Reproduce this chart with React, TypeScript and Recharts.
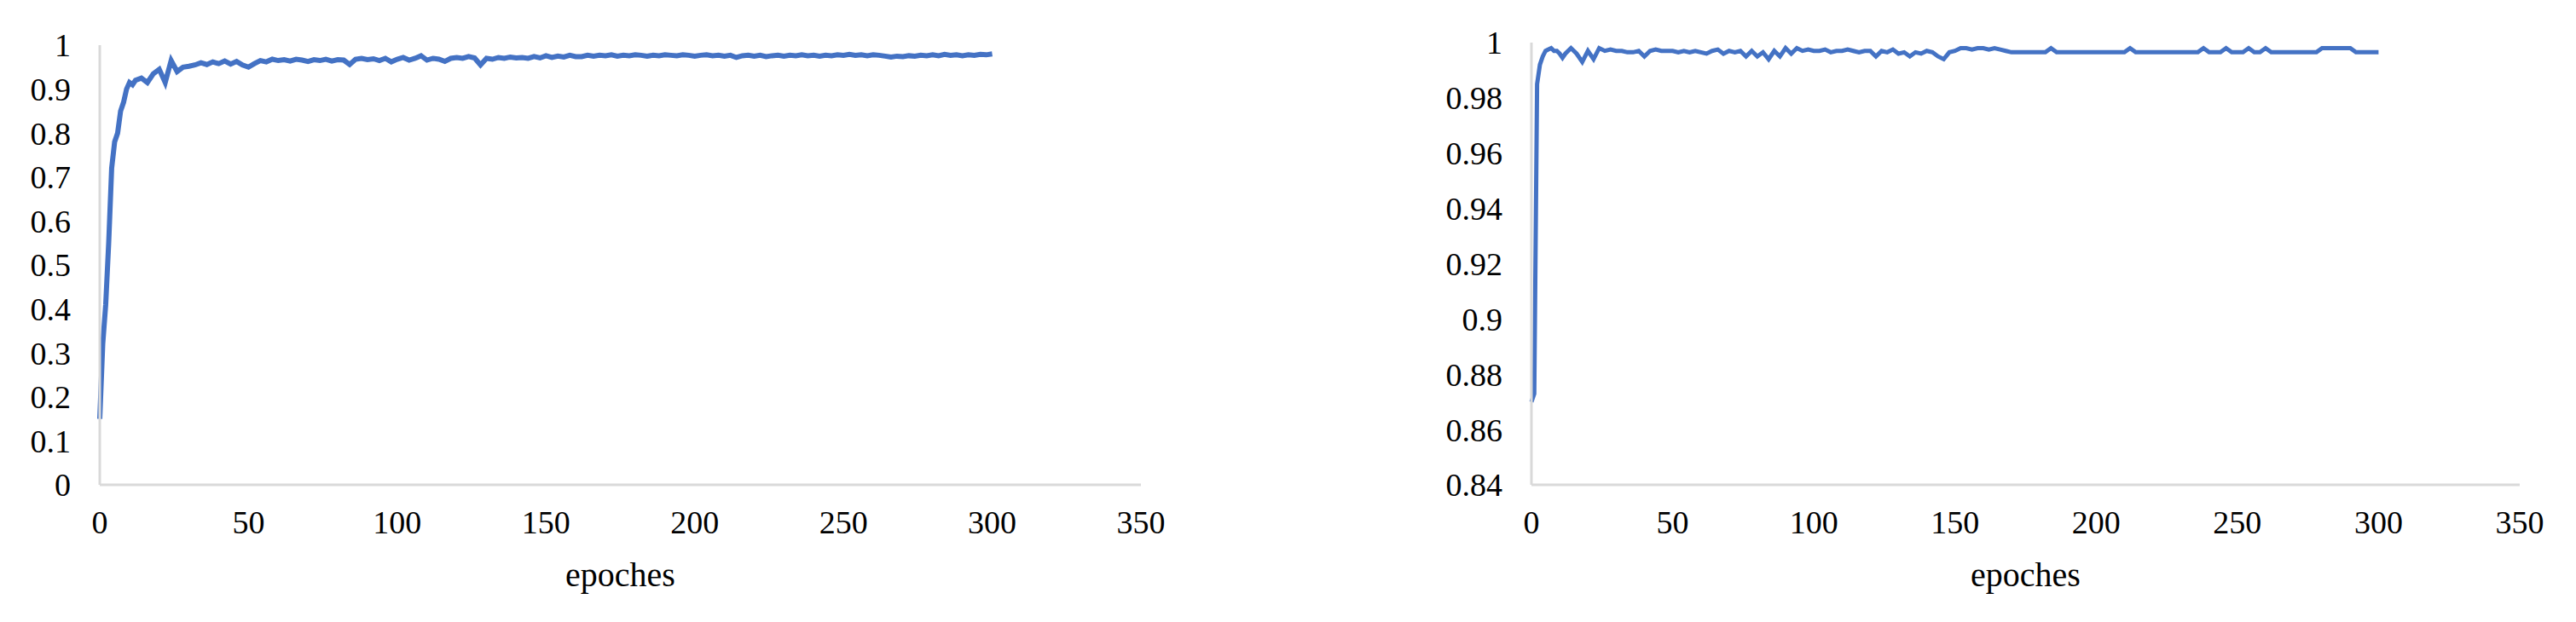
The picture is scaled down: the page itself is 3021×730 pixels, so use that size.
import React from 'react';
import { LineChart, Line, XAxis, YAxis, Label } from 'recharts';

const epochs = [
  0, 1, 2, 3, 4, 5, 6, 7, 8, 9, 10, 11, 12,
  14, 16, 18, 20, 22, 24, 26, 28, 30, 32,
  34, 36, 38, 40, 42, 44, 46, 48, 50, 52,
  54, 56, 58, 60, 62, 64, 66, 68, 70, 72,
  74, 76, 78, 80, 82, 84, 86, 88, 90, 92,
  94, 96, 98, 100, 102, 104, 106, 108, 110, 112,
  114, 116, 118, 120, 122, 124, 126, 128, 130, 132,
  134, 136, 138, 140, 142, 144, 146, 148, 150, 152,
  154, 156, 158, 160, 162, 164, 166, 168, 170, 172,
  174, 176, 178, 180, 182, 184, 186, 188, 190, 192,
  194, 196, 198, 200, 202, 204, 206, 208, 210, 212,
  214, 216, 218, 220, 222, 224, 226, 228, 230, 232,
  234, 236, 238, 240, 242, 244, 246, 248, 250, 252,
  254, 256, 258, 260, 262, 264, 266, 268, 270, 272,
  274, 276, 278, 280, 282, 284, 286, 288, 290, 292,
  294, 296, 298, 300,
];

// left panel: accuracy 0..1
const leftAcc = [
  0.15, 0.32, 0.41, 0.55, 0.72, 0.78, 0.8, 0.85, 0.87, 0.9, 0.915, 0.91, 0.92,
  0.925, 0.915, 0.935, 0.945, 0.915, 0.965, 0.94, 0.95, 0.952, 0.955,
  0.96, 0.956, 0.962, 0.958, 0.964, 0.957, 0.963, 0.955, 0.95, 0.958,
  0.965, 0.962, 0.968, 0.965, 0.967, 0.964, 0.968, 0.966, 0.963, 0.967,
  0.965, 0.968, 0.964, 0.967, 0.966, 0.956, 0.968, 0.97, 0.967, 0.969,
  0.965, 0.97, 0.962, 0.968, 0.972, 0.966, 0.97, 0.976, 0.966, 0.97,
  0.968, 0.963, 0.97, 0.972, 0.97, 0.974, 0.971, 0.955, 0.97, 0.968,
  0.972, 0.97, 0.973, 0.971, 0.972, 0.97, 0.974, 0.971, 0.976, 0.972,
  0.975, 0.973, 0.977, 0.974, 0.974, 0.977, 0.975, 0.977, 0.976, 0.978,
  0.975, 0.977, 0.976, 0.978, 0.977, 0.975, 0.977, 0.976, 0.978, 0.977,
  0.976, 0.978, 0.977, 0.975, 0.977, 0.978, 0.976, 0.977, 0.975, 0.977,
  0.972, 0.976, 0.977, 0.975, 0.977, 0.974, 0.976, 0.977, 0.975, 0.977,
  0.976, 0.978, 0.976, 0.977, 0.975, 0.977, 0.976, 0.978, 0.977, 0.979,
  0.977, 0.978, 0.976, 0.978, 0.977, 0.975, 0.973, 0.975, 0.974, 0.976,
  0.975, 0.977, 0.976, 0.978, 0.976, 0.979, 0.977, 0.978, 0.976, 0.978,
  0.977, 0.979, 0.978, 0.98,
];

// right panel: accuracy zoomed 0.84..1
const rightAcc = [
  0.87, 0.873, 0.985, 0.992, 0.995, 0.997, 0.9975, 0.998, 0.997, 0.997, 0.996, 0.9945, 0.996,
  0.998, 0.996, 0.993, 0.997, 0.994, 0.998, 0.997, 0.9975, 0.997, 0.997,
  0.9965, 0.9965, 0.997, 0.995, 0.997, 0.9975, 0.997, 0.997, 0.997, 0.9965,
  0.997, 0.9965, 0.997, 0.9965, 0.996, 0.997, 0.9975, 0.996, 0.997, 0.9965,
  0.997, 0.995, 0.997, 0.995, 0.9965, 0.994, 0.997, 0.995, 0.998, 0.996,
  0.998, 0.997, 0.9975, 0.997, 0.997, 0.9975, 0.9965, 0.997, 0.997, 0.9975,
  0.997, 0.9965, 0.997, 0.997, 0.995, 0.997, 0.9965, 0.9975, 0.996, 0.9965,
  0.995, 0.9965, 0.996, 0.997, 0.9965, 0.995, 0.994, 0.9965, 0.997, 0.998,
  0.998, 0.9975, 0.998, 0.998, 0.9975, 0.998, 0.9975, 0.997, 0.9965, 0.9965,
  0.9965, 0.9965, 0.9965, 0.9965, 0.9965, 0.998, 0.9965, 0.9965, 0.9965, 0.9965,
  0.9965, 0.9965, 0.9965, 0.9965, 0.9965, 0.9965, 0.9965, 0.9965, 0.9965, 0.998,
  0.9965, 0.9965, 0.9965, 0.9965, 0.9965, 0.9965, 0.9965, 0.9965, 0.9965, 0.9965,
  0.9965, 0.9965, 0.998, 0.9965, 0.9965, 0.9965, 0.998, 0.9965, 0.9965, 0.9965,
  0.998, 0.9965, 0.9965, 0.998, 0.9965, 0.9965, 0.9965, 0.9965, 0.9965, 0.9965,
  0.9965, 0.9965, 0.9965, 0.998, 0.998, 0.998, 0.998, 0.998, 0.998, 0.9965,
  0.9965, 0.9965, 0.9965, 0.9965,
];

const xTicks = [0, 50, 100, 150, 200, 250, 300, 350];
const leftYTicks = [0, 0.1, 0.2, 0.3, 0.4, 0.5, 0.6, 0.7, 0.8, 0.9, 1];
const rightYTicks = [0.84, 0.86, 0.88, 0.9, 0.92, 0.94, 0.96, 0.98, 1];

const FONT = '"Liberation Serif", "Times New Roman", serif';
const tickStyle = { fontSize: 38, fill: '#000', fontFamily: FONT };
const axisLine = { stroke: '#d9d9d9', strokeWidth: 3 };

interface PanelProps {
  values: number[];
  yTicks: number[];
  yDomain: [number, number];
  left: number;
  width: number;
  yAxisWidth: number;
  top: number;
  right: number;
  lineWidth: number;
}

function Panel({ values, yTicks, yDomain, left, width, yAxisWidth, top, right, lineWidth }: PanelProps) {
  const data = epochs.map((e, i) => ({ epoch: e, acc: values[i] }));
  return (
    <div style={{ position: 'absolute', left, top: 0 }}>
      <LineChart width={width} height={730} data={data} margin={{ top, right, left: 0, bottom: 0 }}>
        <XAxis
          dataKey="epoch"
          type="number"
          domain={[0, 350]}
          ticks={xTicks}
          interval={0}
          axisLine={axisLine}
          tickLine={false}
          tickSize={0}
          tickMargin={30}
          height={161}
          tick={tickStyle}
        >
          <Label value="epoches" position="insideBottom" offset={42} style={{ fontSize: 40, fill: '#000', fontFamily: FONT }} />
        </XAxis>
        <YAxis
          type="number"
          domain={yDomain}
          ticks={yTicks}
          interval={0}
          width={yAxisWidth}
          axisLine={axisLine}
          tickLine={false}
          tickSize={0}
          tickMargin={34}
          tick={tickStyle}
        />
        <Line
          type="linear"
          dataKey="acc"
          stroke="#4472C4"
          strokeWidth={lineWidth}
          dot={false}
          isAnimationActive={false}
        />
      </LineChart>
    </div>
  );
}

export default function App() {
  return (
    <div style={{ position: 'absolute', left: 0, top: 0, width: 3021, height: 730, background: '#fff' }}>
      <Panel values={leftAcc} yTicks={leftYTicks} yDomain={[0, 1]} left={0} width={1400} yAxisWidth={117} top={53} right={62} lineWidth={6} />
      <Panel values={rightAcc} yTicks={rightYTicks} yDomain={[0.84, 1]} left={1560} width={1461} yAxisWidth={236} top={50} right={66} lineWidth={5} />
    </div>
  );
}
